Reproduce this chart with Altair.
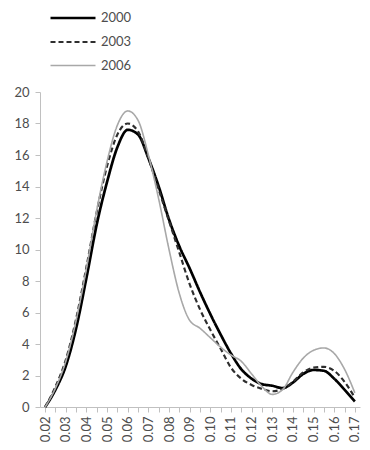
import altair as alt
import pandas as pd

x_vals = [0.020, 0.025, 0.030, 0.035, 0.040, 0.045, 0.050, 0.055, 0.060, 0.065,
          0.070, 0.075, 0.080, 0.085, 0.090, 0.095, 0.100, 0.105, 0.110, 0.115,
          0.120, 0.125, 0.130, 0.135, 0.140, 0.145, 0.150, 0.155, 0.160, 0.165, 0.170]

y_2000 = [0.0, 1.1, 2.6, 5.0, 8.2, 11.6, 14.3, 16.5, 17.6, 17.3,
          15.8, 14.0, 11.9, 10.2, 8.8, 7.3, 5.9, 4.6, 3.4, 2.4,
          1.8, 1.45, 1.35, 1.2, 1.55, 2.1, 2.35, 2.3, 1.8, 1.1, 0.35]

y_2003 = [0.0, 1.3, 3.0, 5.6, 8.9, 12.4, 15.3, 17.3, 18.0, 17.5,
          15.8, 13.8, 11.8, 9.8, 7.8, 6.2, 4.9, 3.7, 2.5, 1.8,
          1.4, 1.15, 1.0, 1.15, 1.6, 2.2, 2.5, 2.55, 2.3, 1.6, 0.6]

y_2006 = [0.0, 1.2, 2.9, 5.5, 8.8, 12.5, 15.6, 17.9, 18.8, 18.2,
          16.0, 13.2, 10.0, 7.2, 5.5, 5.0, 4.4, 3.8, 3.3, 2.9,
          2.1, 1.3, 0.8, 1.1, 2.2, 3.1, 3.6, 3.75, 3.4, 2.4, 0.9]

series = ["2000", "2003", "2006"]
x_ticks = [round(0.02 + 0.005 * i, 3) for i in range(31)]
y_ticks = [0, 2, 4, 6, 8, 10, 12, 14, 16, 18, 20]

rows = []
for name, ys in zip(series, [y_2000, y_2003, y_2006]):
    for xv, yv in zip(x_vals, ys):
        rows.append({"x": xv, "y": yv, "year": name})
df = pd.DataFrame(rows)

FONT = "Lato"
TXT = "#4d4d4d"
AX = "#c0c0c0"

legend_kw = dict(title=None, orient="none", legendX=24, legendY=-83,
                 symbolType="M-3,0H3", symbolSize=225,
                 labelFont=FONT, labelFontSize=13, labelColor=TXT,
                 labelOffset=19, rowPadding=8, symbolStrokeWidth=2)

chart = alt.Chart(df).mark_line(interpolate="monotone").encode(
    x=alt.X("x:Q",
            scale=alt.Scale(domain=[0.0175, 0.1725], nice=False, zero=False),
            axis=alt.Axis(values=x_ticks, title=None, grid=False,
                          labelAngle=270, labelAlign="right", labelBaseline="middle",
                          labelExpr="round(datum.value*1000) % 10 == 0 ? format(datum.value, '.2f') : ''",
                          labelFont=FONT, labelFontSize=13, labelColor=TXT,
                          labelPadding=4, tickSize=5, tickColor=AX, domainColor=AX,
                          labelOverlap=False, labelFlush=False)),
    y=alt.Y("y:Q",
            scale=alt.Scale(domain=[0, 20], nice=False),
            axis=alt.Axis(values=y_ticks, title=None, grid=False,
                          labelFont=FONT, labelFontSize=13, labelColor=TXT,
                          labelPadding=6, tickSize=5, tickColor=AX, domainColor=AX)),
    color=alt.Color("year:N",
                    scale=alt.Scale(domain=series, range=["#000000", "#2e2e2e", "#a8a8a8"]),
                    legend=alt.Legend(**legend_kw)),
    strokeDash=alt.StrokeDash("year:N",
                              scale=alt.Scale(domain=series, range=[[1, 0], [5, 3], [1, 0]]),
                              legend=alt.Legend(**legend_kw)),
    strokeWidth=alt.StrokeWidth("year:N",
                                scale=alt.Scale(domain=series, range=[2.7, 1.6, 1.8]),
                                legend=None),
).properties(
    width=320, height=315,
    autosize=alt.AutoSizeParams(type="none"),
    padding={"left": 32, "top": 84, "right": 2, "bottom": 35},
).configure_view(stroke=None)

chart.save("out.html", embed_options={"renderer": "svg", "actions": False})
